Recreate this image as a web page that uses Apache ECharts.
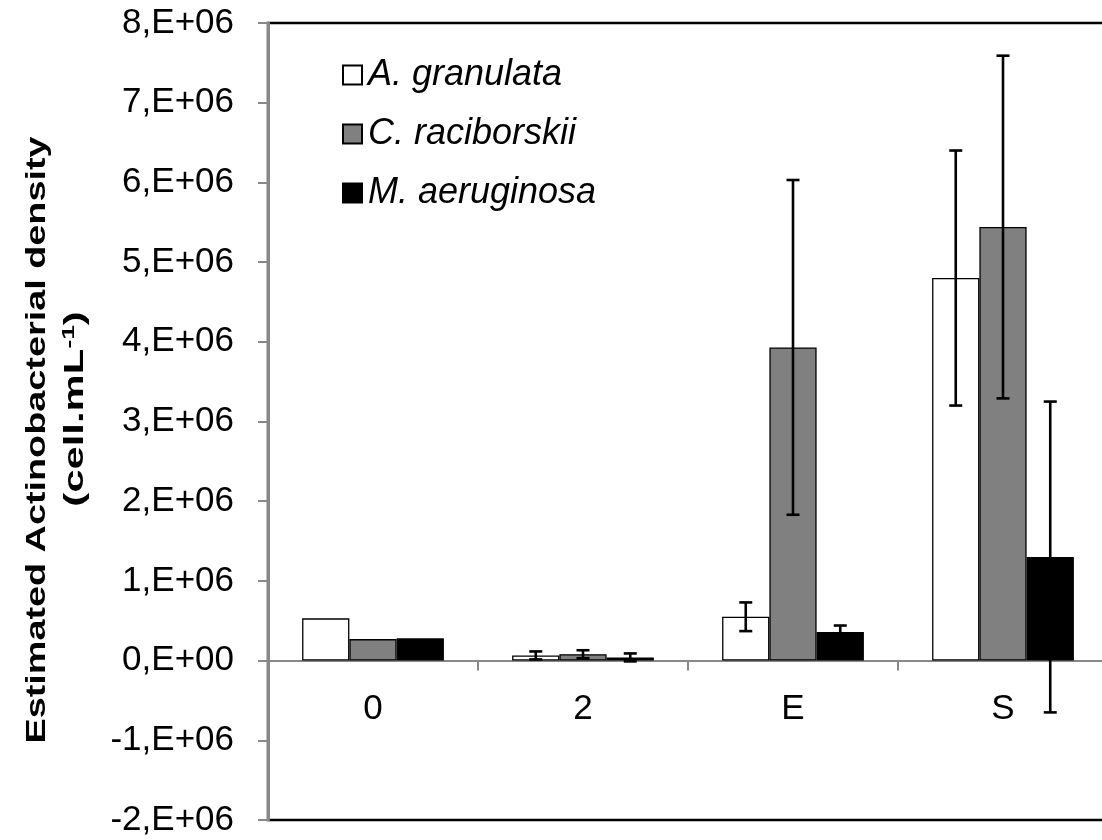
<!DOCTYPE html>
<html>
<head>
<meta charset="utf-8">
<style>
  html, body { margin: 0; padding: 0; background: #fff; }
  #chart { width: 1102px; height: 840px; }
</style>
<script src="https://cdn.jsdelivr.net/npm/echarts@6/dist/echarts.min.js"></script>
</head>
<body>
<div id="chart"></div>
<script>
// Sampling points
const categories = ['0', '2', 'E', 'S'];
const seriesNames = ['A. granulata', 'C. raciborskii', 'M. aeruginosa'];

// Mean densities (cell/mL) and standard deviations
const granulata = [0.53e6, 0.065e6, 0.55e6, 4.80e6];
const granulataErr = [0, 0.05e6, 0.18e6, 1.60e6];
const raciborskii = [0.27e6, 0.08e6, 3.93e6, 5.44e6];
const raciborskiiErr = [0, 0.05e6, 2.10e6, 2.15e6];
const aeruginosa = [0.28e6, 0.04e6, 0.36e6, 1.30e6];
const aeruginosaErr = [0, 0.05e6, 0.08e6, 1.95e6];

// Value axis range
const yMin = -2e6, yMax = 8e6, yStep = 1e6;

// Axis title lines
const titleLine1 = 'Estimated Actinobacterial density';
const titleLine2 = ['(cell.mL', '-1', ')'];

const FONT = "'Liberation Sans', Arial, sans-serif";
const CAT_GAP = 0.325;
const fills = ['#ffffff', '#808080', '#000000'];
const means = [granulata, raciborskii, aeruginosa];
const errs = [granulataErr, raciborskiiErr, aeruginosaErr];

function tickLabel(v) {
  const n = Math.round(v / 1e6);
  return n === 0 ? '0,E+00' : n + ',E+06';
}

const barSeries = seriesNames.map((name, i) => ({
  name: name,
  type: 'bar',
  data: means[i],
  barGap: '0%',
  barCategoryGap: (CAT_GAP * 100) + '%',
  itemStyle: { color: fills[i], borderColor: '#000', borderWidth: 1.3 },
  z: 2
}));

const errData = [];
means.forEach((m, s) => m.forEach((v, c) => errData.push([c, v, errs[s][c], s])));

// Error bars (mean ± SD) centred on each bar of the group
const errSeries = {
  type: 'custom',
  data: errData,
  encode: { x: 0, y: 1 },
  z: 5,
  silent: true,
  renderItem: function (params, api) {
    const c = api.value(0), v = api.value(1), e = api.value(2), s = api.value(3);
    if (!e) return;
    const band = api.size([1, 0])[0];
    const bw = band * (1 - CAT_GAP) / 3;
    const x = api.coord([c, v])[0] + (s - 1) * bw;
    const yTop = api.coord([c, v + e])[1];
    const yBot = api.coord([c, v - e])[1];
    const cap = 6.5;
    const st = { stroke: '#000', lineWidth: 2.6 };
    return {
      type: 'group',
      children: [
        { type: 'line', shape: { x1: x, y1: yTop, x2: x, y2: yBot }, style: st },
        { type: 'line', shape: { x1: x - cap, y1: yTop, x2: x + cap, y2: yTop }, style: st },
        { type: 'line', shape: { x1: x - cap, y1: yBot, x2: x + cap, y2: yBot }, style: st }
      ]
    };
  }
};

// Category names placed just under the zero line
const catLabelSeries = {
  type: 'custom',
  data: categories.map((c, i) => [i, 0]),
  encode: { x: 0, y: 1 },
  z: 6,
  silent: true,
  renderItem: function (params, api) {
    const p = api.coord([api.value(0), api.value(1)]);
    return {
      type: 'text',
      x: p[0], y: p[1] + 31,
      style: {
        text: categories[api.value(0)],
        font: '35px ' + FONT,
        fill: '#000',
        align: 'center',
        verticalAlign: 'top'
      }
    };
  }
};

const chart = echarts.init(document.getElementById('chart'), null, { renderer: 'canvas' });
chart.setOption({
  backgroundColor: '#fff',
  animation: false,
  textStyle: { fontFamily: FONT },
  grid: {
    left: 268, top: 23, bottom: 20, right: -6,
    outerBoundsMode: 'none',
    containLabel: false,
    show: true, borderColor: '#000', borderWidth: 2.5, backgroundColor: 'transparent'
  },
  legend: {
    orient: 'vertical',
    left: 337, top: 50,
    icon: 'rect',
    itemWidth: 19, itemHeight: 19,
    itemGap: 19,
    data: seriesNames,
    textStyle: { fontFamily: FONT, fontSize: 36, fontStyle: 'italic', color: '#000', lineHeight: 40, padding: [0, 0, 0, 1] }
  },
  xAxis: {
    type: 'category',
    data: categories,
    axisLine: { onZero: true, lineStyle: { color: '#888', width: 2 } },
    axisTick: { show: true, length: 10, lineStyle: { color: '#888', width: 2 } },
    axisLabel: { show: false },
    splitLine: { show: false }
  },
  yAxis: {
    type: 'value',
    min: yMin, max: yMax, interval: yStep,
    axisLine: { show: true, lineStyle: { color: '#888', width: 3 } },
    axisTick: { show: true, length: 10, lineStyle: { color: '#888', width: 2 } },
    axisLabel: { fontFamily: FONT, fontSize: 35, color: '#000', margin: 34, formatter: tickLabel },
    splitLine: { show: false }
  },
  graphic: [
    {
      type: 'text',
      x: 38, y: 440,
      rotation: Math.PI / 2,
      scaleX: 1.40,
      style: {
        text: titleLine1,
        font: 'bold 27px ' + FONT,
        fill: '#000',
        align: 'center',
        verticalAlign: 'middle'
      }
    },
    {
      type: 'text',
      x: 76, y: 409,
      rotation: Math.PI / 2,
      scaleX: 1.55,
      style: {
        text: '{t|' + titleLine2[0] + '}{s|' + titleLine2[1] + '}{t|' + titleLine2[2] + '}',
        fill: '#000',
        align: 'center',
        verticalAlign: 'middle',
        rich: {
          t: { fontFamily: FONT, fontSize: 27, fontWeight: 'bold', color: '#000', lineHeight: 30 },
          s: { fontFamily: FONT, fontSize: 17, fontWeight: 'bold', color: '#000', lineHeight: 17, verticalAlign: 'top' }
        }
      }
    }
  ],
  series: barSeries.concat([errSeries, catLabelSeries])
});
</script>
</body>
</html>
